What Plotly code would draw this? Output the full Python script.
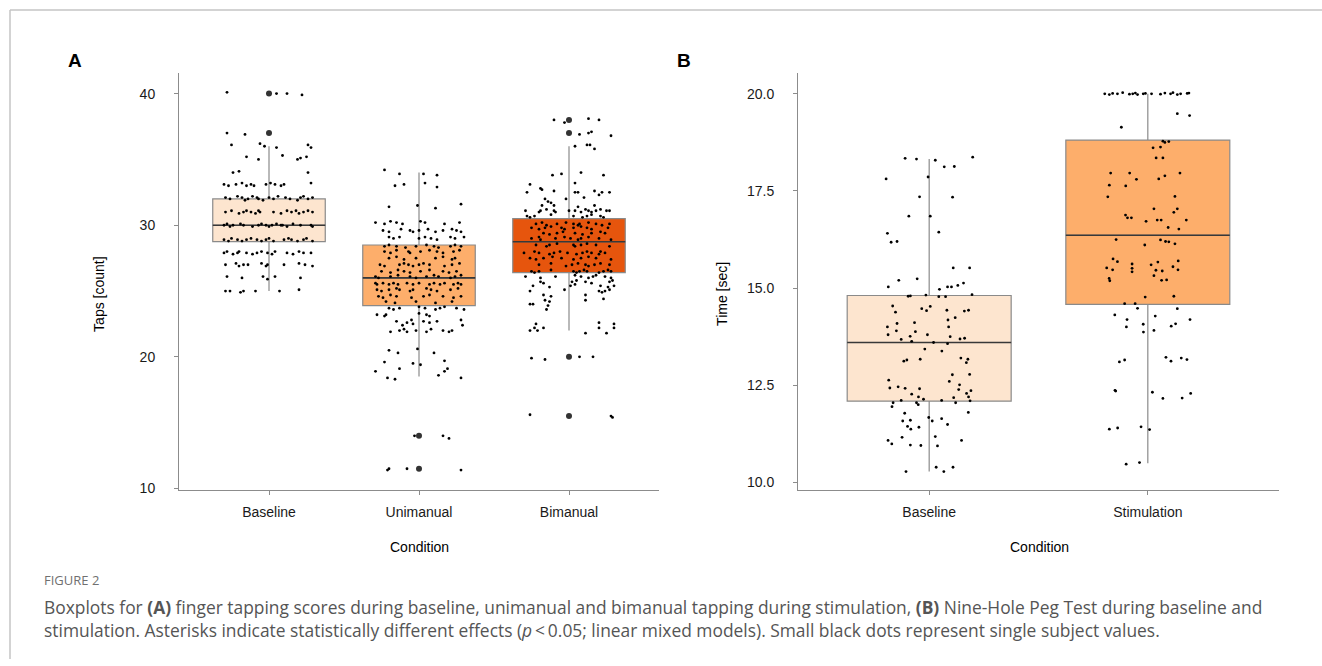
import plotly.graph_objects as go

# ---------------- Panel A : finger tapping ----------------
cond_a = ["Baseline", "Unimanual", "Bimanual"]
q1_a = [28.75, 23.9, 26.4]
med_a = [30.0, 26.0, 28.75]
q3_a = [32.0, 28.5, 30.5]
lo_a = [25.0, 18.5, 22.0]
hi_a = [36.0, 34.0, 36.0]
fill_a = ["#fde5cf", "#fdae6b", "#e6550d"]
ticks_a = [10, 20, 30, 40]

out_base_a = [40.0, 37.0]
out_uni_a = [14.0, 11.5]
out_bi_a = [38.0, 37.0, 20.0, 15.5]

base_a_y = [40.1, 40.0, 40.0, 39.9,
            37.0, 36.9,
            36.1, 36.2, 36.0, 35.9, 36.1, 35.9,
            35.2, 35.0, 35.3, 35.0, 35.1, 35.2,
            34.0, 34.1, 34.0,
            33.1, 33.0, 33.1, 33.2, 33.0, 33.1, 33.0, 33.1, 33.2, 33.1, 33.0, 33.1, 33.2,
            32.1, 32.0, 32.2, 32.1, 31.9, 32.0, 32.2, 32.1, 32.0, 31.9, 32.1, 32.0, 32.2, 32.1, 32.0, 31.9, 32.1, 32.2, 32.0, 32.1,
            31.0, 31.1, 30.9, 31.0, 31.1, 31.0, 30.9, 31.1, 31.0, 31.0, 30.9, 31.1, 31.0, 31.1, 30.9, 31.0, 31.1, 31.0,
            30.0, 30.1, 29.9, 30.0, 30.1, 30.0, 29.9, 30.0, 30.1, 30.0, 29.9, 30.0, 30.1, 30.0, 30.0, 29.9, 30.1, 30.0, 30.0, 29.9,
            28.9, 28.8, 29.0, 28.9, 28.8, 28.9, 29.0, 28.9, 28.8, 28.9, 29.0, 28.8, 28.9, 29.0, 28.9, 28.8, 28.9, 29.0, 28.8,
            27.9, 28.0, 27.8, 27.9, 28.0, 27.9, 27.8, 27.9, 28.0, 27.9, 27.8, 28.0, 27.9, 27.8, 28.0, 27.9, 27.9,
            27.0, 27.1, 26.9, 27.0, 27.0, 27.1, 26.9, 27.0, 27.0, 27.1, 27.0, 26.9,
            26.1, 26.0, 26.1, 25.9, 26.1, 26.0,
            25.0, 25.0, 24.9, 25.0, 25.0, 25.0, 25.1]
base_a_dx = [-0.28, 0.05, 0.12, 0.22,
             -0.28, -0.16,
             -0.25, -0.06, -0.03, 0.05, 0.26, 0.28,
             -0.15, -0.07, 0.09, 0.19, 0.21, 0.25,
             -0.24, -0.20, 0.26,
             -0.30, -0.27, -0.22, -0.18, -0.15, -0.12, -0.10, -0.02, 0.01, 0.04, 0.08, 0.10, 0.28,
             -0.29, -0.26, -0.21, -0.18, -0.16, -0.14, -0.11, -0.08, -0.07, -0.04, 0.00, 0.03, 0.06, 0.11, 0.14, 0.19, 0.21, 0.23, 0.26, 0.29,
             -0.29, -0.25, -0.20, -0.17, -0.15, -0.12, -0.09, -0.07, -0.06, 0.03, 0.08, 0.12, 0.15, 0.18, 0.20, 0.23, 0.26, 0.29,
             -0.30, -0.28, -0.26, -0.24, -0.19, -0.17, -0.11, -0.07, -0.05, -0.02, 0.00, 0.02, 0.05, 0.08, 0.09, 0.12, 0.16, 0.21, 0.28, 0.29,
             -0.30, -0.27, -0.25, -0.21, -0.18, -0.15, -0.12, -0.08, -0.05, -0.02, 0.00, 0.03, 0.10, 0.13, 0.15, 0.19, 0.23, 0.25, 0.29,
             -0.30, -0.28, -0.24, -0.21, -0.20, -0.15, -0.11, -0.08, -0.05, -0.01, 0.02, 0.04, 0.12, 0.16, 0.20, 0.23, 0.28,
             -0.29, -0.22, -0.20, -0.17, -0.14, -0.05, -0.02, -0.01, 0.10, 0.20, 0.24, 0.29,
             -0.28, -0.18, -0.04, -0.01, 0.04, 0.21,
             -0.29, -0.26, -0.19, -0.17, -0.09, 0.07, 0.20]

uni_a_y = [34.2, 33.9, 33.9, 33.8,
           33.0, 33.1, 33.2, 32.9,
           31.4, 31.5, 31.3, 31.6,
           30.2, 30.1, 30.3, 30.2, 30.1, 30.3, 30.2, 30.1, 30.2,
           29.6, 29.5, 29.7, 29.6, 29.5, 29.6, 29.7, 29.5, 29.6, 29.7, 29.6, 29.5,
           29.1, 29.0, 29.1, 29.0, 29.1, 29.0, 28.9, 29.1, 29.0, 29.1,
           28.4, 28.5, 28.4, 28.3, 28.4, 28.5, 28.4, 28.3, 28.4, 28.5, 28.4,
           28.0, 27.9, 28.1, 28.0, 27.9, 28.0, 28.1, 28.0, 27.9, 28.0, 28.1,
           27.5, 27.6, 27.4, 27.5, 27.5, 27.6, 27.4, 27.5,
           27.0, 26.9, 27.0, 27.1, 27.0, 26.9, 27.0, 27.1, 27.0, 26.9, 27.0, 27.1,
           26.5, 26.4, 26.6, 26.5, 26.4, 26.5, 26.6, 26.5, 26.4, 26.5,
           26.1, 26.0, 26.1, 26.2, 26.1, 26.0, 26.1, 26.2, 26.1, 26.0, 26.1, 26.2,
           25.6, 25.5, 25.6, 25.5, 25.6, 25.5, 25.6, 25.5, 25.6, 25.5, 25.6, 25.5, 25.6, 25.5, 25.6, 25.5,
           25.1, 25.0, 25.1, 25.2, 25.1, 25.0, 25.1, 25.2, 25.1, 25.0, 25.1, 25.2,
           24.6, 24.5, 24.7, 24.6, 24.5, 24.6, 24.7, 24.6, 24.5, 24.6,
           24.2, 24.1, 24.2, 24.1, 24.2,
           23.7, 23.6, 23.7, 23.8, 23.7, 23.6, 23.7, 23.8, 23.7, 23.6,
           23.2, 23.1, 23.2, 23.3, 23.2, 23.1,
           22.7, 22.6, 22.8, 22.7, 22.6, 22.7, 22.8,
           22.4, 22.5, 22.4,
           21.9, 22.0, 22.1, 21.9, 22.0, 21.9, 22.1, 22.0, 21.9, 22.0,
           20.5, 20.3, 20.6, 20.3,
           19.6, 19.5, 19.4, 19.7,
           18.9, 19.1, 19.1, 18.9,
           18.4, 18.3, 18.6, 18.4,
           14.0, 14.0, 13.8,
           11.4, 11.5, 11.5, 11.4]
uni_a_dx = [-0.23, -0.13, 0.03, 0.12,
            -0.16, -0.10, 0.04, 0.12,
            -0.20, -0.01, 0.11, 0.28,
            -0.29, -0.23, -0.19, -0.15, -0.11, 0.01, 0.04, 0.17, 0.27,
            -0.24, -0.20, -0.12, -0.06, -0.04, 0.00, 0.06, 0.11, 0.16, 0.22, 0.25, 0.28,
            -0.20, -0.17, -0.13, 0.00, 0.04, 0.08, 0.12, 0.21, 0.24, 0.30,
            -0.23, -0.20, -0.15, -0.09, -0.02, 0.05, 0.10, 0.13, 0.21, 0.24, 0.28,
            -0.23, -0.19, -0.15, -0.07, -0.06, 0.01, 0.07, 0.12, 0.16, 0.23, 0.27,
            -0.20, -0.15, -0.10, -0.02, 0.11, 0.16, 0.22, 0.24,
            -0.26, -0.23, -0.13, -0.10, -0.07, -0.04, 0.00, 0.03, 0.07, 0.17, 0.22, 0.27,
            -0.25, -0.19, -0.14, -0.10, -0.06, 0.01, 0.07, 0.16, 0.20, 0.25,
            -0.29, -0.27, -0.19, -0.14, -0.06, -0.02, 0.05, 0.10, 0.13, 0.21, 0.24, 0.28,
            -0.29, -0.28, -0.24, -0.20, -0.17, -0.14, -0.08, -0.04, 0.00, 0.07, 0.10, 0.14, 0.17, 0.23, 0.26, 0.28,
            -0.28, -0.25, -0.20, -0.15, -0.13, -0.06, -0.04, 0.05, 0.08, 0.12, 0.21, 0.26,
            -0.27, -0.24, -0.19, -0.15, -0.05, 0.03, 0.07, 0.16, 0.23, 0.28,
            -0.22, -0.16, -0.02, 0.11, 0.22,
            -0.20, -0.17, -0.13, 0.00, 0.04, 0.11, 0.14, 0.17, 0.25, 0.30,
            -0.28, -0.23, -0.22, 0.00, 0.05, 0.07,
            -0.15, -0.08, -0.05, 0.03, 0.07, 0.12, 0.28,
            -0.11, -0.04, 0.29,
            -0.19, -0.13, -0.10, -0.08, -0.02, 0.05, 0.08, 0.16, 0.20, 0.22,
            -0.20, -0.14, -0.01, 0.10,
            -0.23, -0.04, 0.01, 0.17,
            -0.29, -0.13, 0.19, 0.17,
            -0.21, -0.16, 0.13, 0.28,
            -0.03, 0.16, 0.20,
            -0.21, -0.20, -0.08, 0.28]

bi_a_y = [38.0, 37.8, 38.1, 38.0,
          36.9, 37.0, 37.1, 36.8,
          36.0, 36.1, 36.1, 35.8,
          34.0,
          33.8, 33.9, 33.8,
          33.1, 33.2,
          32.8, 32.7,
          32.5, 32.6, 32.5, 32.5, 32.6, 32.5, 32.5, 32.3,
          32.0, 32.0, 32.1,
          31.8, 31.7,
          31.5, 31.5, 31.4, 31.5,
          31.1, 31.0, 31.1, 31.2, 31.1, 31.0, 31.1, 31.1, 31.0, 31.2, 31.1, 31.0, 31.1, 31.2, 31.1, 31.1,
          30.7, 30.6, 30.7, 30.8, 30.7, 30.6, 30.7, 30.8, 30.7, 30.6,
          30.1, 30.2, 30.0, 30.1, 30.2, 30.1, 30.0, 30.1, 30.2, 30.1, 30.0, 30.1,
          29.8, 29.7, 29.8, 29.9, 29.8, 29.7, 29.8, 29.9, 29.8, 29.7, 29.8,
          29.4, 29.3, 29.4, 29.5, 29.4, 29.3, 29.4, 29.5, 29.4,
          29.0, 29.1, 28.9, 29.0, 29.1, 29.0, 28.9, 29.0, 29.1, 29.0, 28.9,
          28.5, 28.4, 28.5, 28.6, 28.5, 28.4, 28.5, 28.6, 28.5, 28.4,
          27.9, 28.0, 27.9, 27.8, 27.9, 28.0, 27.9, 27.8, 27.9, 28.0, 27.9, 27.8, 28.0, 27.9,
          27.5, 27.4, 27.5, 27.6, 27.5, 27.4, 27.5, 27.6, 27.5, 27.4,
          27.0, 27.1, 26.9, 27.0, 27.1, 27.0, 26.9, 27.0, 27.1, 27.0,
          26.5, 26.4, 26.5, 26.6, 26.5, 26.4, 26.5, 26.6, 26.5, 26.4, 26.5, 26.6, 26.5,
          26.1, 26.0, 26.1, 26.2, 26.1, 26.0, 26.1, 26.2, 26.1, 26.0,
          25.7, 25.6, 25.7, 25.8, 25.7, 25.6, 25.7, 25.8,
          25.4, 25.3, 25.4, 25.5, 25.4, 25.3, 25.4,
          25.0, 25.1, 25.0, 24.9, 25.0, 25.1,
          24.7, 24.6, 24.7,
          24.3, 24.2, 24.3, 24.4,
          24.0, 24.0, 23.9,
          23.6,
          22.5, 22.6, 22.5,
          22.0, 22.2, 22.0, 22.2, 21.8, 22.2, 21.8, 22.2,
          19.9, 19.8, 20.0, 20.0,
          15.6, 15.5, 15.4]
bi_a_dx = [-0.10, -0.03, 0.13, 0.20,
           0.07, 0.13, 0.15, 0.28,
           0.04, 0.12, 0.14, 0.17,
           0.08,
           -0.11, -0.05, 0.23,
           -0.26, 0.04,
           -0.19, -0.18,
           -0.28, -0.10, 0.04, 0.06, 0.17, 0.22, 0.27, 0.20,
           -0.16, -0.02, 0.10,
           -0.14, -0.12,
           -0.18, -0.10, 0.06, 0.17,
           -0.29, -0.20, -0.19, -0.15, -0.10, -0.09, 0.00, 0.04, 0.08, 0.11, 0.13, 0.15, 0.18, 0.21, 0.25, 0.27,
           -0.28, -0.26, -0.23, -0.12, 0.03, 0.09, 0.12, 0.15, 0.21, 0.23,
           -0.22, -0.18, -0.15, -0.08, -0.02, 0.03, 0.06, 0.07, 0.13, 0.18, 0.22, 0.27,
           -0.25, -0.20, -0.16, -0.12, -0.05, -0.03, 0.03, 0.08, 0.12, 0.15, 0.26,
           -0.17, -0.13, -0.08, -0.04, 0.04, 0.09, 0.15, 0.21, 0.24,
           -0.25, -0.20, -0.19, -0.09, -0.03, 0.01, 0.06, 0.08, 0.13, 0.20, 0.28,
           -0.22, -0.15, -0.13, -0.08, 0.03, 0.04, 0.08, 0.12, 0.18, 0.27,
           -0.30, -0.23, -0.20, -0.13, -0.10, -0.06, -0.01, 0.05, 0.09, 0.12, 0.15, 0.20, 0.21, 0.24,
           -0.26, -0.22, -0.17, -0.11, -0.05, 0.03, 0.08, 0.13, 0.18, 0.28,
           -0.20, -0.12, -0.02, 0.02, 0.06, 0.11, 0.13, 0.17, 0.21, 0.27,
           -0.25, -0.23, -0.20, -0.12, 0.03, 0.05, 0.07, 0.10, 0.12, 0.20, 0.23, 0.26, 0.28,
           -0.29, -0.19, -0.09, 0.04, 0.08, 0.13, 0.16, 0.18, 0.24, 0.28,
           -0.19, -0.17, 0.02, 0.05, 0.11, 0.15, 0.27, 0.29,
           -0.24, -0.13, 0.01, 0.04, 0.21, 0.26, 0.30,
           -0.26, -0.03, 0.20, 0.22, 0.24, 0.27,
           -0.17, -0.12, 0.11,
           -0.16, -0.13, 0.11, 0.23,
           -0.26, -0.24, -0.14,
           -0.15,
           -0.22, 0.20, 0.30,
           -0.26, -0.23, -0.21, -0.17, 0.11, 0.20, 0.25, 0.30,
           -0.25, -0.16, 0.07, 0.16,
           -0.26, 0.28, 0.29]

# ---------------- Panel B : Nine-Hole Peg Test ----------------
cond_b = ["Baseline", "Stimulation"]
q1_b = [12.09, 14.58]
med_b = [13.6, 16.36]
q3_b = [14.81, 18.81]
lo_b = [10.28, 10.49]
hi_b = [18.32, 20.0]
fill_b = ["#fde5cf", "#fdae6b"]
ticks_b = [10.0, 12.5, 15.0, 17.5, 20.0]

base_b_y = [18.34, 18.32, 18.29, 18.12, 18.13, 18.37, 17.81, 17.86, 17.35, 17.34,
            16.85, 16.85, 16.44, 16.41, 16.18, 16.20, 15.52, 15.52, 15.20, 15.24,
            15.03, 14.97, 15.03, 15.03, 15.07, 15.13, 14.79, 14.80, 14.82, 14.78,
            14.78, 14.83, 14.54, 14.38, 14.47, 14.42, 14.53, 14.43, 14.24, 14.41,
            14.43, 14.09, 14.11, 14.18, 14.00, 13.90, 13.88, 14.00, 13.80, 13.76,
            13.80, 13.68, 13.63, 13.60, 13.75, 13.69, 13.71, 13.57, 13.43, 13.38,
            13.20, 13.17, 13.12, 13.15, 13.17, 13.08, 12.77, 12.78, 12.63, 12.60,
            12.43, 12.46, 12.42, 12.41, 12.51, 12.39, 12.36, 12.27, 12.29, 12.20,
            12.14, 12.18, 12.20, 12.10, 12.11, 12.11, 12.05, 12.05, 12.05, 11.95,
            12.00, 11.78, 11.80, 11.58, 11.60, 11.67, 11.58, 11.64, 11.44, 11.37,
            11.42, 11.49, 11.18, 11.16, 11.08, 10.99, 10.96, 10.95, 10.94, 11.08,
            10.28, 10.39, 10.28, 10.39]
base_b_dx = [-0.110, -0.058, 0.028, 0.069, 0.115, 0.199, -0.197, -0.005, -0.044, 0.107,
             -0.093, 0.005, 0.044, -0.191, -0.174, -0.147, 0.110, 0.185, -0.139, -0.055,
             -0.187, 0.047, 0.084, 0.102, 0.131, 0.157, -0.096, -0.086, -0.015, 0.044,
             0.075, 0.196, -0.167, -0.154, -0.034, -0.012, 0.005, 0.081, 0.119, 0.161,
             0.180, -0.147, -0.067, 0.086, -0.191, -0.150, -0.063, 0.089, -0.188, -0.087,
             -0.008, -0.128, -0.080, 0.020, 0.096, 0.141, 0.162, 0.084, -0.020, 0.058,
             0.145, 0.177, -0.116, -0.102, -0.041, 0.170, 0.106, 0.185, -0.185, 0.092,
             -0.180, -0.142, -0.110, -0.044, 0.139, 0.135, 0.191, -0.080, 0.171, -0.049,
             -0.026, 0.112, 0.180, 0.187, -0.128, 0.057, 0.121, -0.165, -0.058, -0.170,
             -0.050, -0.112, 0.179, -0.121, -0.086, -0.002, 0.014, 0.057, -0.099, -0.084,
             -0.047, 0.084, 0.028, -0.124, -0.188, -0.171, -0.086, -0.038, 0.038, 0.148,
             -0.106, 0.032, 0.067, 0.109]

stim_b_y = [20.00, 19.98, 20.01, 20.00, 20.03, 19.99, 20.00, 20.02, 19.98, 20.00,
            20.01, 20.00, 19.99, 20.02, 20.00, 20.03, 19.98, 20.00, 20.01, 20.02,
            19.49, 19.44, 19.14, 18.78, 18.75, 18.77, 18.61, 18.63, 18.35, 18.35,
            17.96, 17.96, 17.89, 17.96, 17.80, 17.81, 17.65, 17.63, 17.35, 17.36,
            17.04, 17.04, 16.95, 16.88, 16.81, 16.81, 16.72, 16.75, 16.75, 16.75,
            16.56, 16.52, 16.25, 16.11, 16.24, 16.20, 16.19, 16.14, 15.75, 15.68,
            15.62, 15.51, 15.42, 15.52, 15.47, 15.60, 15.67, 15.46, 15.44, 15.55,
            15.70, 15.47, 15.25, 15.19, 15.32, 15.20, 15.21, 14.77, 14.79, 14.60,
            14.60, 14.48, 14.47, 14.31, 14.19, 14.28, 14.19, 14.00, 14.07, 13.91,
            13.87, 14.02, 14.08, 13.10, 13.15, 13.22, 13.12, 13.20, 13.16, 12.37,
            12.35, 12.32, 12.16, 12.17, 12.29, 11.37, 11.40, 11.43, 11.36, 10.47,
            10.51]
stim_b_dx = [-0.197, -0.176, -0.161, -0.139, -0.115, -0.084, -0.069, -0.057, -0.047, -0.021,
             -0.011, 0.017, 0.058, 0.078, 0.104, 0.115, 0.135, 0.150, 0.180, 0.188,
             0.135, 0.191, -0.121, 0.069, 0.078, 0.096, 0.024, 0.058, 0.038, 0.069,
             -0.170, -0.083, 0.078, 0.147, -0.052, 0.050, -0.176, -0.101, -0.183, 0.124,
             0.028, 0.135, 0.119, -0.102, -0.093, -0.075, -0.008, 0.043, 0.061, 0.176,
             0.093, 0.142, -0.145, -0.014, 0.058, 0.081, 0.096, 0.124, -0.159, -0.139,
             -0.072, -0.072, -0.072, -0.188, -0.161, 0.015, 0.046, 0.037, 0.066, 0.115,
             0.139, 0.138, -0.177, -0.174, 0.028, 0.063, 0.086, -0.012, 0.119, -0.106,
             -0.058, -0.047, 0.135, -0.151, -0.095, 0.034, 0.193, -0.098, -0.021, 0.028,
             -0.020, 0.107, 0.127, -0.130, -0.106, 0.083, 0.106, 0.153, 0.179, -0.150,
             -0.147, 0.021, 0.069, 0.157, 0.196, -0.176, -0.138, -0.031, 0.008, -0.099,
             -0.038]

caption_head = "FIGURE 2"
caption_l1 = ("Boxplots for <b>(A)</b> finger tapping scores during baseline, unimanual and bimanual "
              "tapping during stimulation, <b>(B)</b> Nine-Hole Peg Test during baseline and")
caption_l2 = ("stimulation. Asterisks indicate statistically different effects (<i>p</i>\u2009<\u20090.05; "
              "linear mixed models). Small black dots represent single subject values.")

# ---------------- style ----------------
W, H = 1322, 666
BOX_W = 0.75
EDGE = "#8a8a8a"
MED = "#383838"
AX = "#8c8c8c"
FONT = "Liberation Sans, Arial, sans-serif"

fig = go.Figure()


def add_panel(xa, ya, q1, med, q3, lo, hi, fills, outs, pts):
    for i in range(len(q1)):
        fig.add_trace(go.Box(
            x=[i], q1=[q1[i]], median=[med[i]], q3=[q3[i]],
            lowerfence=[lo[i]], upperfence=[hi[i]],
            width=BOX_W, whiskerwidth=0, boxpoints=False,
            fillcolor=fills[i], line=dict(color=EDGE, width=1.2),
            xaxis=xa, yaxis=ya, showlegend=False, hoverinfo="skip"))
        fig.add_trace(go.Scatter(
            x=[i - BOX_W / 2, i + BOX_W / 2], y=[med[i], med[i]], mode="lines",
            line=dict(color=MED, width=1.6), xaxis=xa, yaxis=ya,
            showlegend=False, hoverinfo="skip"))
    for i, o in enumerate(outs):
        if o:
            fig.add_trace(go.Scatter(
                x=[i] * len(o), y=o, mode="markers",
                marker=dict(color="#333333", size=6), xaxis=xa, yaxis=ya,
                showlegend=False, hoverinfo="skip"))
    for i, (yy, dd) in enumerate(pts):
        fig.add_trace(go.Scatter(
            x=[i + d for d in dd], y=yy, mode="markers",
            marker=dict(color="#000000", size=2.8), xaxis=xa, yaxis=ya,
            showlegend=False, hoverinfo="skip"))


add_panel("x", "y", q1_a, med_a, q3_a, lo_a, hi_a, fill_a,
          [out_base_a, out_uni_a, out_bi_a],
          [(base_a_y, base_a_dx), (uni_a_y, uni_a_dx), (bi_a_y, bi_a_dx)])
add_panel("x2", "y2", q1_b, med_b, q3_b, lo_b, hi_b, fill_b,
          [[], []],
          [(base_b_y, base_b_dx), (stim_b_y, stim_b_dx)])


def px_x(p):
    return p / W


def px_y(p):
    return (H - p) / H


ydom = [px_y(495), px_y(74)]
axis_common = dict(showline=True, linecolor=AX, linewidth=1, ticks="outside",
                   ticklen=4, tickcolor=AX, showgrid=False, zeroline=False,
                   tickfont=dict(family=FONT, size=14, color="#1a1a1a"))

fig.update_layout(
    width=W, height=H, margin=dict(l=0, r=0, t=0, b=0),
    paper_bgcolor="white", plot_bgcolor="white", showlegend=False,
    xaxis=dict(domain=[px_x(179), px_x(659)], range=[-0.6, 2.6],
               tickvals=list(range(len(cond_a))), ticktext=cond_a,
               anchor="y", ticklabelstandoff=5, **axis_common),
    yaxis=dict(domain=ydom, range=[9.9, 41.55], tickvals=ticks_a,
               anchor="x", ticklabelstandoff=16, **axis_common),
    xaxis2=dict(domain=[px_x(798), px_x(1279)], range=[-0.6, 1.6],
                tickvals=list(range(len(cond_b))), ticktext=cond_b,
                anchor="y2", ticklabelstandoff=5, **axis_common),
    yaxis2=dict(domain=ydom, range=[9.81, 20.53], tickvals=ticks_b,
                tickformat=".1f", anchor="x2", ticklabelstandoff=16, **axis_common),
)

ann = []


def add_text(text, x, y, size, color="#000000", family=FONT, xanchor="center",
             angle=0, bold=False):
    ann.append(dict(text=("<b>%s</b>" % text) if bold else text, x=px_x(x), y=px_y(y),
                    xref="paper", yref="paper", showarrow=False, xanchor=xanchor,
                    yanchor="middle", textangle=angle,
                    font=dict(family=family, size=size, color=color)))


add_text("A", 75, 61, 19, bold=True)
add_text("B", 684, 61, 19, bold=True)
add_text("Taps [count]", 99, 297, 14, angle=-90)
add_text("Time [sec]", 722, 297, 14, angle=-90)
add_text("Condition", 419, 553, 14)
add_text("Condition", 1039, 553, 14)
add_text(caption_head, 42, 586, 13, color="#707070", family="Open Sans", xanchor="left")
add_text(caption_l1, 42, 613, 17.4, color="#555555", family="Open Sans", xanchor="left")
add_text(caption_l2, 42, 637, 17.4, color="#555555", family="Open Sans", xanchor="left")
fig.update_layout(annotations=ann)

frame = dict(color="#c4c4c4", width=1.5)
fig.update_layout(shapes=[
    dict(type="line", xref="paper", yref="paper", x0=px_x(10), x1=1, y0=px_y(10), y1=px_y(10), line=frame),
    dict(type="line", xref="paper", yref="paper", x0=px_x(10), x1=px_x(10), y0=px_y(10), y1=0, line=frame),
])

fig.write_html("out.html", config={"displayModeBar": False},
               post_script="document.body.style.margin='0px';document.body.style.overflow='hidden';")
